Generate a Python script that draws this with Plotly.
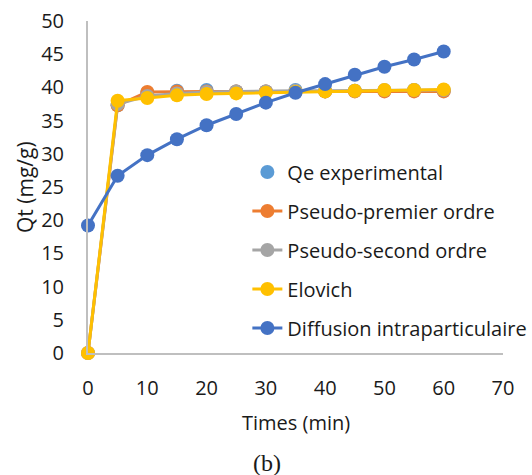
import plotly.graph_objects as go

t = [0, 5, 10, 15, 20, 25, 30, 35, 40, 45, 50, 55, 60]
qe_exp = [0, 37.3, 39.2, 39.5, 39.6, 39.4, 39.4, 39.6, 39.4, 39.5, 39.5, 39.6, 39.5]
pfo = [0, 37.3, 39.3, 39.4, 39.4, 39.4, 39.4, 39.4, 39.4, 39.4, 39.4, 39.4, 39.4]
pso = [0, 37.5, 38.7, 39.1, 39.3, 39.4, 39.4, 39.5, 39.5, 39.5, 39.6, 39.6, 39.6]
elovich = [0, 38.0, 38.4, 38.8, 39.0, 39.1, 39.2, 39.3, 39.4, 39.5, 39.6, 39.6, 39.7]
diffusion = [19.2, 26.7, 29.8, 32.2, 34.3, 36.0, 37.7, 39.2, 40.5, 41.9, 43.1, 44.2, 45.4]

fig = go.Figure()
fig.add_trace(go.Scatter(x=t[1:], y=qe_exp[1:], mode="markers", name="Qe experimental",
                         marker=dict(color="#5B9BD5", size=14), legendgroup="a",
                         cliponaxis=False))
series = [("Pseudo-premier ordre", pfo, "#ED7D31"),
          ("Pseudo-second ordre", pso, "#A5A5A5"),
          ("Elovich", elovich, "#FFC000"),
          ("Diffusion intraparticulaire", diffusion, "#4472C4")]
for i, (n, y, c) in enumerate(series):
    fig.add_trace(go.Scatter(x=t, y=y, mode="lines+markers", name=n,
                             line=dict(color=c, width=3),
                             marker=dict(color=c, size=14), legendgroup=str(i),
                             cliponaxis=False))

fig.update_layout(
    width=532, height=475,
    margin=dict(l=88, r=29, t=21, b=122, autoexpand=False),
    paper_bgcolor="white", plot_bgcolor="white",
    font=dict(family="Open Sans", size=20, color="#1a1a1a"),
    showlegend=True,
    legend=dict(x=0.384, y=0.604, xanchor="left", yanchor="top",
                bgcolor="rgba(0,0,0,0)", tracegroupgap=10,
                font=dict(size=20, color="#1a1a1a")),
    xaxis=dict(range=[0, 70], tickvals=list(range(0, 71, 10)), showgrid=False,
               showline=True, linecolor="#BFBFBF", linewidth=2, zeroline=False,
               ticks="", ticklabelstandoff=16, tickfont=dict(size=20), automargin=False),
    yaxis=dict(range=[0, 50], tickvals=list(range(0, 51, 5)), showgrid=False,
               showline=True, linecolor="#BFBFBF", linewidth=2, zeroline=False,
               ticks="", ticklabelstandoff=18, tickfont=dict(size=20), automargin=False),
)
fig.add_annotation(text="Times (min)", xref="paper", yref="paper", x=0.5, y=0,
                   yanchor="middle", yshift=-69, showarrow=False,
                   font=dict(size=20, color="#1a1a1a"))
fig.add_annotation(text="Qt (mg/g)", xref="paper", yref="paper", x=0, y=0.5,
                   xanchor="center", xshift=-63, textangle=-90, showarrow=False,
                   font=dict(size=21, color="#1a1a1a"))
fig.add_annotation(text="(b)", xref="paper", yref="paper", x=0.431, y=0,
                   yanchor="middle", yshift=-110, showarrow=False,
                   font=dict(family="Liberation Serif", size=24, color="#1a1a1a"))
fig.write_html("out.html")
